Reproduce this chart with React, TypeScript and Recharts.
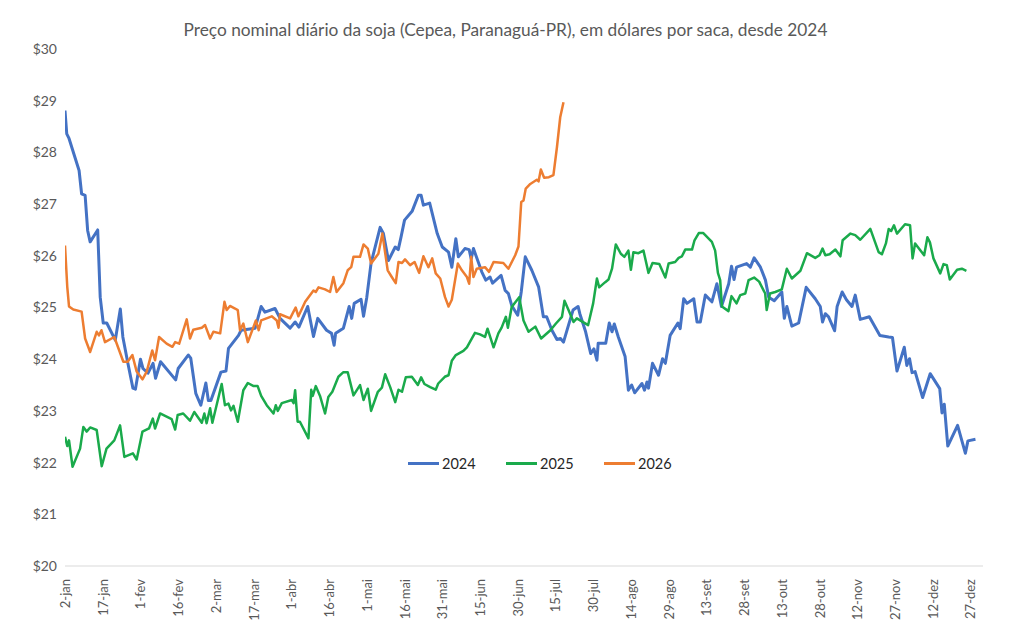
import React from "react";
import { LineChart, Line, XAxis, YAxis } from "recharts";

// Day offsets counted from 2 January, and the daily price (US$ per saca) on that day.
const days2024 = [0, 0.7, 1.6, 5.6, 6.6, 8, 9, 10, 13, 14, 15.2, 16.6, 20, 22, 23, 25, 27, 28, 30, 31, 33, 35, 36, 38, 44, 45, 49, 50, 52, 54, 56, 57, 58, 62, 64, 65, 69, 70, 75.6, 78, 79.5, 83.5, 85.5, 89.5, 91.5, 93, 96.5, 98.8, 100.5, 104, 106, 107, 107.6, 110.7, 113, 114, 115, 117.7, 118.7, 120, 121.7, 125.3, 126.6, 128.6, 131.3, 132.5, 133.6, 135, 138, 140.5, 141.6, 142.5, 145, 148, 150, 152.5, 153.8, 155.4, 156.4, 159, 160.7, 161.5, 162.4, 165.7, 167.3, 169, 170, 173.4, 175, 176.3, 177.6, 180, 181.4, 183, 185.6, 188.3, 190.2, 191.5, 193.6, 195.6, 197, 198.2, 200.2, 202, 204, 204.7, 207, 209, 210.3, 211.5, 212, 215, 216.4, 217.5, 218.4, 220, 222.7, 224, 225.3, 226.5, 229.4, 230.4, 231.4, 232, 233.6, 236, 237.6, 238.7, 240.6, 243.7, 244.6, 246, 247.3, 250, 251.3, 252.6, 254.6, 257.2, 259.2, 261, 263.9, 265, 266, 267, 271, 272.5, 274, 276.5, 278.5, 279.8, 282, 285, 286, 287, 289, 291.7, 294.7, 298.3, 300.3, 301.2, 302.3, 303.6, 306, 307, 309, 310.7, 312.9, 314.2, 316.2, 319.8, 324, 327.5, 329, 330.8, 333.7, 334.7, 335.8, 336.8, 338, 341, 344, 347.8, 348.7, 349.6, 351, 354.9, 358, 359, 362];
const prices2024 = [28.81, 28.36, 28.27, 27.65, 27.2, 27.17, 26.49, 26.27, 26.5, 25.2, 24.7, 24.7, 24.37, 24.97, 24.43, 23.92, 23.44, 23.42, 24.0, 23.82, 23.73, 23.92, 23.63, 23.95, 23.6, 23.82, 24.08, 24.02, 23.34, 23.11, 23.54, 23.2, 23.2, 23.75, 23.77, 24.21, 24.46, 24.56, 24.6, 25.02, 24.91, 24.98, 24.79, 24.6, 24.72, 24.62, 25.02, 24.44, 24.79, 24.56, 24.5, 24.27, 24.5, 24.6, 25.02, 24.79, 25.08, 25.16, 24.83, 25.2, 25.86, 26.55, 26.43, 25.91, 26.17, 26.12, 26.36, 26.69, 26.86, 27.17, 27.17, 26.98, 27.02, 26.43, 26.17, 26.07, 25.78, 26.33, 25.98, 26.14, 26.12, 25.94, 26.14, 25.69, 25.53, 25.59, 25.47, 25.62, 25.33, 25.27, 25.04, 24.85, 25.3, 25.98, 25.72, 25.4, 24.82, 24.82, 24.56, 24.38, 24.4, 24.33, 24.66, 24.95, 25.02, 24.88, 24.53, 24.11, 24.2, 23.98, 24.31, 24.31, 24.7, 24.53, 24.68, 24.43, 24.05, 23.4, 23.5, 23.35, 23.53, 23.4, 23.56, 23.44, 23.92, 23.69, 24.01, 23.92, 24.46, 24.7, 24.59, 25.17, 25.08, 25.17, 24.72, 24.72, 25.24, 25.11, 25.46, 25.02, 25.46, 25.8, 25.54, 25.78, 25.85, 25.78, 25.96, 25.78, 25.53, 25.2, 25.13, 25.3, 24.79, 25.02, 24.64, 24.7, 25.39, 25.17, 25.02, 24.72, 24.88, 24.82, 24.55, 25.02, 25.3, 25.15, 25.02, 25.24, 24.77, 24.82, 24.46, 24.43, 24.42, 23.77, 24.23, 23.88, 24.01, 23.74, 23.76, 23.26, 23.72, 23.43, 22.96, 23.13, 22.32, 22.72, 22.18, 22.42, 22.45];

const days2025 = [0, 0.9, 1.6, 3, 6, 7.3, 8.6, 10, 12.6, 14.6, 16.5, 19.6, 21.9, 23.6, 27, 28.5, 30.8, 33.4, 34.9, 35.8, 37.8, 42.4, 43.8, 44.8, 47, 49.7, 51.4, 54.4, 55.4, 56.3, 57.7, 58.6, 62.3, 63.6, 65, 66, 67, 68.7, 70.9, 72.7, 75, 76.6, 78, 80.2, 82.9, 83.8, 84.6, 86.2, 90.2, 90.9, 91.5, 92.5, 93.4, 96.8, 97.9, 98.5, 99.7, 101.4, 103.4, 104.7, 106.3, 108.7, 110.7, 112.4, 114.7, 117.3, 118.7, 120.4, 121.7, 124.4, 126, 127.3, 129.3, 131.3, 132.6, 134, 135.5, 137.9, 140.3, 141.6, 142.9, 145.2, 147.4, 148.4, 151, 152.5, 153.8, 155.4, 158.4, 159.8, 163, 165, 167, 168, 170.4, 172.3, 173.6, 175.3, 176.1, 177.6, 180.6, 182.3, 184.3, 187, 189.3, 193, 195.2, 197.6, 198.6, 200.2, 202.2, 203.5, 208, 210, 211.5, 212.4, 214.8, 216.1, 217.5, 219, 221, 222.4, 224, 225, 226, 228, 230, 232, 233.6, 236.3, 238.7, 240, 242.6, 244, 245.3, 246.6, 249.3, 250.3, 252, 253.8, 257.2, 258.5, 259.6, 260.5, 261.2, 263.8, 265, 267, 268.5, 270.5, 271.8, 274, 276, 278.4, 279, 280.3, 282.4, 285, 287, 289, 292.4, 295, 298.3, 300, 301.2, 302.3, 304, 306.3, 308.3, 309.2, 312.3, 314.2, 316.2, 320.2, 323.5, 324.8, 326.4, 327.5, 328.5, 329.6, 330.8, 334, 336, 337, 338, 341.6, 342.9, 343.9, 345.3, 348, 349.3, 350.6, 351.8, 354.7, 356.6, 358.4];
const prices2025 = [22.5, 22.32, 22.43, 21.92, 22.27, 22.69, 22.6, 22.68, 22.63, 21.93, 22.27, 22.43, 22.72, 22.11, 22.18, 22.06, 22.6, 22.66, 22.85, 22.66, 22.95, 22.84, 22.64, 22.92, 22.95, 22.81, 22.98, 22.77, 22.95, 22.76, 23.05, 22.77, 23.52, 23.11, 23.14, 23.01, 23.1, 22.79, 23.4, 23.54, 23.48, 23.48, 23.29, 23.11, 22.95, 23.11, 23.0, 23.15, 23.21, 23.15, 23.4, 22.79, 22.79, 22.47, 23.41, 23.29, 23.48, 23.29, 22.95, 23.27, 23.37, 23.66, 23.75, 23.75, 23.3, 23.5, 23.21, 23.43, 23.0, 23.37, 23.45, 23.71, 23.46, 23.17, 23.41, 23.37, 23.65, 23.66, 23.5, 23.65, 23.52, 23.46, 23.41, 23.53, 23.66, 23.69, 23.97, 24.08, 24.16, 24.23, 24.51, 24.48, 24.43, 24.59, 24.23, 24.5, 24.61, 24.82, 24.61, 25.01, 25.2, 24.75, 24.53, 24.63, 24.4, 24.56, 24.69, 24.82, 25.13, 24.95, 24.72, 24.79, 24.66, 25.08, 25.56, 25.39, 25.49, 25.54, 25.75, 26.22, 26.04, 25.98, 26.1, 25.73, 26.07, 26.05, 26.1, 25.67, 25.86, 25.84, 25.58, 25.85, 25.88, 25.96, 25.99, 26.12, 26.12, 26.3, 26.44, 26.44, 26.27, 26.1, 25.67, 25.53, 25.02, 24.93, 25.22, 25.08, 25.24, 25.27, 25.53, 25.58, 25.5, 25.27, 24.95, 25.27, 25.3, 25.35, 25.75, 25.56, 25.71, 26.05, 25.96, 26.01, 26.14, 26.01, 26.03, 26.12, 25.99, 26.3, 26.43, 26.4, 26.31, 26.52, 26.07, 26.03, 26.24, 26.52, 26.48, 26.59, 26.43, 26.61, 26.59, 25.95, 26.24, 26.01, 26.36, 26.26, 25.95, 25.66, 25.84, 25.82, 25.54, 25.73, 25.75, 25.71];

const days2026 = [0, 0.9, 1.6, 3.3, 6.6, 8, 10, 12.6, 13.5, 14.5, 15.9, 19.6, 23.2, 24.9, 26.8, 28.5, 30.8, 32.5, 34.7, 35.8, 37.4, 40.4, 42.7, 43.8, 45.4, 48.4, 49.7, 51, 54.4, 55.7, 57.7, 59, 61.7, 63.4, 64.3, 65.6, 67.6, 68.7, 69.6, 70.9, 72.7, 75.9, 77, 78, 82.2, 84.2, 84.9, 85.5, 89.5, 91.7, 92.8, 95.5, 98.8, 99.7, 100.8, 103.4, 105.4, 106.7, 108, 110.7, 112.4, 113.8, 114.7, 117.3, 118.7, 120.4, 121.7, 124.6, 126.2, 128.3, 129.8, 131.5, 132.6, 134, 135.2, 137.2, 139, 140.8, 142.5, 144.5, 146, 147.4, 149.2, 151.1, 152.5, 153.8, 156.2, 157.8, 159.8, 160.7, 161.5, 162.4, 163.7, 167, 168.6, 170.4, 174.3, 176.3, 179, 180.3, 181.4, 182.3, 183.2, 185, 187.6, 188.3, 189.2, 190.5, 192.4, 194.2, 195.6, 196.9, 198.2];
const prices2026 = [26.2, 25.4, 25.02, 24.96, 24.92, 24.4, 24.14, 24.53, 24.46, 24.56, 24.33, 24.43, 23.95, 23.95, 24.08, 23.76, 23.61, 23.76, 24.17, 23.98, 24.43, 24.3, 24.24, 24.33, 24.3, 24.77, 24.4, 24.57, 24.61, 24.66, 24.4, 24.53, 24.5, 25.11, 24.95, 25.03, 24.98, 24.95, 24.56, 24.69, 24.33, 24.75, 24.56, 24.75, 24.83, 24.75, 24.61, 24.87, 24.79, 25.0, 24.83, 25.11, 25.33, 25.3, 25.39, 25.35, 25.3, 25.59, 25.3, 25.47, 25.72, 25.78, 25.98, 25.98, 26.22, 26.14, 25.85, 26.04, 26.43, 25.72, 25.6, 25.47, 25.88, 25.86, 25.93, 25.82, 25.88, 25.67, 25.99, 25.78, 25.95, 25.66, 25.56, 25.2, 25.02, 25.15, 25.85, 25.72, 25.59, 25.46, 25.98, 25.59, 25.75, 25.78, 25.69, 25.88, 25.86, 25.75, 26.01, 26.18, 27.04, 27.07, 27.3, 27.39, 27.47, 27.44, 27.67, 27.51, 27.52, 27.56, 28.1, 28.68, 28.97];

// Axis ticks: one every 15 days, labelled with the date.
const tickDays = [0, 15, 30, 45, 60, 75, 90, 105, 120, 135, 150, 165, 180, 195, 210, 225, 240, 255, 270, 285, 300, 315, 330, 345, 360];
const tickLabels = ["2-jan", "17-jan", "1-fev", "16-fev", "2-mar", "17-mar", "1-abr", "16-abr", "1-mai", "16-mai", "31-mai", "15-jun", "30-jun", "15-jul", "30-jul", "14-ago", "29-ago", "13-set", "28-set", "13-out", "28-out", "12-nov", "27-nov", "12-dez", "27-dez"];
const priceTicks = [20, 21, 22, 23, 24, 25, 26, 27, 28, 29, 30];

const seriesNames = ["2024", "2025", "2026"];
const seriesColors = ["#4472C4", "#1AAA4B", "#ED7D31"];
const seriesWidths = [3, 2.5, 2.5];

const toPoints = (days: number[], prices: number[]) =>
  days.map((day, i) => ({ day, price: prices[i] }));

const seriesData = [
  toPoints(days2024, prices2024),
  toPoints(days2025, prices2025),
  toPoints(days2026, prices2026),
];

const FONT = "Lato, 'Open Sans', sans-serif";
const GREY = "#595959";

const DateTick = (props: any) => {
  const { x, y, payload } = props;
  const idx = tickDays.indexOf(payload.value);
  const label = idx >= 0 ? tickLabels[idx] : "";
  const ty = y + 5;
  return (
    <text
      x={x}
      y={ty}
      transform={`rotate(-90, ${x}, ${ty})`}
      textAnchor="end"
      dominantBaseline="central"
      fill={GREY}
      fontSize={13}
      fontFamily={FONT}
    >
      {label}
    </text>
  );
};

// Year key drawn inside the plot, below the curves.
const YearLegend = () => (
  <div
    style={{
      position: "absolute",
      top: 455,
      left: 408,
      display: "flex",
      fontFamily: FONT,
      fontSize: 14.5,
      color: "#262626",
      zIndex: 1,
    }}
  >
    {seriesNames.map((name, i) => (
      <div key={name} style={{ display: "flex", alignItems: "center", width: 98 }}>
        <span
          style={{
            display: "inline-block",
            width: 31,
            height: 0,
            borderTop: `3px solid ${seriesColors[i]}`,
            marginRight: 3,
          }}
        />
        <span>{name}</span>
      </div>
    ))}
  </div>
);

export default function App() {
  return (
    <div style={{ position: "absolute", left: 0, top: 0, width: 1011, height: 629, background: "#fff" }}>
      <div
        style={{
          position: "absolute",
          top: 19,
          left: 0,
          width: 1011,
          textAlign: "center",
          fontFamily: FONT,
          fontSize: 17.3,
          color: GREY,
          zIndex: 1,
        }}
      >
        Preço nominal diário da soja (Cepea, Paranaguá-PR), em dólares por saca, desde 2024
      </div>
      <YearLegend />
      <LineChart width={1011} height={629} margin={{ top: 49, right: 28, bottom: 8, left: 15 }}>
        <XAxis
          type="number"
          dataKey="day"
          domain={[0, 365]}
          ticks={tickDays}
          interval={0}
          tick={<DateTick />}
          tickLine={false}
          axisLine={{ stroke: "#D9D9D9", strokeWidth: 1 }}
          height={55}
          allowDataOverflow
        />
        <YAxis
          type="number"
          domain={[20, 30]}
          ticks={priceTicks}
          interval={0}
          tickFormatter={(v: number) => `$${v}`}
          tick={{ fill: GREY, fontSize: 14, fontFamily: FONT }}
          axisLine={false}
          tickLine={false}
          width={50}
        />
        {seriesNames.map((name, i) => (
          <Line
            key={name}
            name={name}
            data={seriesData[i]}
            dataKey="price"
            type="linear"
            stroke={seriesColors[i]}
            strokeWidth={seriesWidths[i]}
            strokeLinejoin="round"
            dot={false}
            activeDot={false}
            isAnimationActive={false}
          />
        ))}
      </LineChart>
    </div>
  );
}
